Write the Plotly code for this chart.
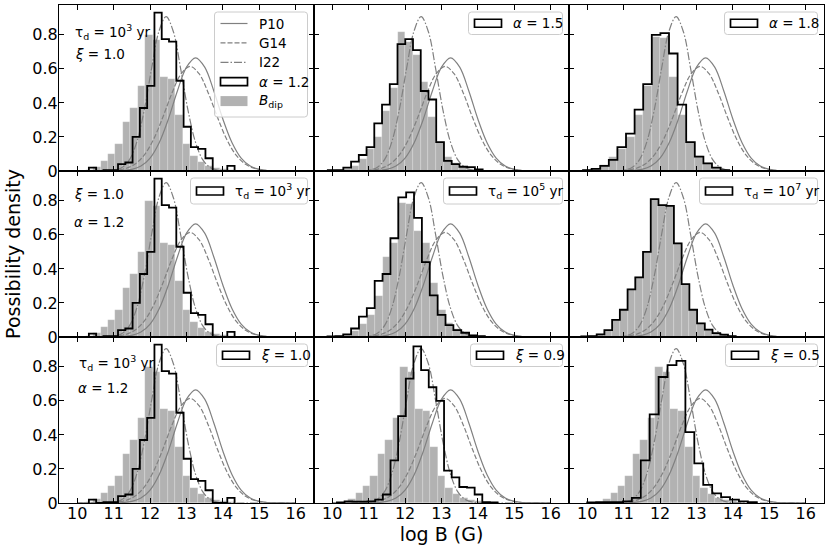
import plotly.graph_objects as go
from plotly.subplots import make_subplots

# ---------------- data ----------------
x_ticks = [10, 11, 12, 13, 14, 15, 16]
y_ticks = [0, 0.2, 0.4, 0.6, 0.8]
y_ticklabels = ["0", "0.2", "0.4", "0.6", "0.8"]

# model curves (P10, G14, I22)
p10_x = [10.0, 10.5, 10.75, 11.0, 11.25, 11.5, 11.75, 12.0, 12.25, 12.5, 12.75, 13.0,
         13.25, 13.5, 13.75, 14.0, 14.25, 14.5, 14.75, 15.0, 15.25, 15.5, 15.75, 16.0]
p10_y = [0, 0, 0.0001, 0.0006, 0.0026, 0.0095, 0.029, 0.076, 0.166, 0.304, 0.470, 0.610,
         0.665, 0.610, 0.470, 0.304, 0.166, 0.076, 0.029, 0.0095, 0.0026, 0.0006, 0.0001, 0]
g14_x = [10.0, 10.35, 10.6, 10.85, 11.1, 11.35, 11.6, 11.85, 12.1, 12.35, 12.6, 12.85, 13.1,
         13.35, 13.6, 13.85, 14.1, 14.35, 14.6, 14.85, 15.1, 15.35, 15.6, 15.85, 16.0]
g14_y = [0, 0.0001, 0.0004, 0.0015, 0.0054, 0.0164, 0.0428, 0.0966, 0.188, 0.3155, 0.457, 0.570,
         0.614, 0.570, 0.457, 0.3155, 0.188, 0.0966, 0.0428, 0.0164, 0.0054, 0.0015, 0.0004, 0.0001, 0]
i22_x = [10.0, 10.44, 10.64, 10.84, 11.04, 11.24, 11.44, 11.64, 11.84, 12.04, 12.24, 12.44,
         12.64, 12.84, 13.04, 13.24, 13.44, 13.64, 13.84, 14.04, 14.24, 14.44, 16.0]
i22_y = [0, 0, 0.0002, 0.0012, 0.0058, 0.022, 0.0686, 0.174, 0.358, 0.600, 0.818, 0.907,
         0.818, 0.600, 0.358, 0.174, 0.0686, 0.022, 0.0058, 0.0012, 0.0002, 0, 0]

# histograms: (first bin edge, bin width, heights)
bdip_fid_start, bdip_fid_width = 10.23, 0.205
bdip_fid = [0.005, 0.022, 0.06, 0.10, 0.16, 0.29, 0.37, 0.50, 0.80, 0.77, 0.55, 0.54,
            0.33, 0.16, 0.09, 0.05, 0.03, 0.02, 0.01, 0.005]

hist_fid_start, hist_fid_width = 10.32, 0.2          # tau=1e3, alpha=1.2, xi=1.0
hist_fid = [0.02, 0.0, 0.005, 0.005, 0.04, 0.05, 0.2, 0.37, 0.5, 0.93, 0.775, 0.76,
            0.53, 0.26, 0.14, 0.13, 0.075, 0.0, 0.0, 0.03]

hist_a15_start, hist_a15_width = 9.88, 0.2125
hist_a15 = [0.005, 0.005, 0.02, 0.055, 0.094, 0.14, 0.28, 0.39, 0.51, 0.745, 0.775, 0.71,
            0.47, 0.42, 0.17, 0.06, 0.04, 0.025, 0.023, 0.01]
bdip_a15 = [0.0, 0.003, 0.01, 0.03, 0.07, 0.13, 0.2, 0.35, 0.49, 0.815, 0.76, 0.68,
            0.52, 0.32, 0.17, 0.08, 0.045, 0.025, 0.012, 0.005]

hist_a18_start, hist_a18_width = 9.885, 0.236
hist_a18 = [0.005, 0.012, 0.03, 0.065, 0.14, 0.22, 0.36, 0.51, 0.80, 0.81, 0.69, 0.39,
            0.17, 0.085, 0.045, 0.02, 0.005]
bdip_a18 = [0.003, 0.01, 0.035, 0.08, 0.13, 0.2, 0.33, 0.5, 0.79, 0.78, 0.55, 0.33,
            0.17, 0.09, 0.045, 0.02, 0.005]

hist_t5_start, hist_t5_width = 9.87, 0.216
hist_t5 = [0.003, 0.005, 0.015, 0.05, 0.12, 0.17, 0.33, 0.37, 0.58, 0.82, 0.85, 0.70,
           0.44, 0.245, 0.13, 0.07, 0.04, 0.025, 0.01, 0.005]
bdip_t5 = [0.0, 0.003, 0.01, 0.035, 0.075, 0.13, 0.24, 0.47, 0.55, 0.79, 0.78, 0.62,
           0.55, 0.32, 0.16, 0.085, 0.045, 0.025, 0.01, 0.005]

hist_t7_start, hist_t7_width = 9.836, 0.212
hist_t7 = [0.003, 0.005, 0.015, 0.04, 0.10, 0.16, 0.28, 0.35, 0.50, 0.81, 0.775, 0.77,
           0.55, 0.31, 0.16, 0.08, 0.043, 0.023, 0.014, 0.005]

hist_x09_start, hist_x09_width = 10.13, 0.21
hist_x09 = [0.003, 0.01, 0.008, 0.008, 0.01, 0.02, 0.05, 0.25, 0.51, 0.73, 0.92, 0.78,
            0.68, 0.60, 0.19, 0.15, 0.094, 0.09, 0.05, 0.005, 0.003]

hist_x05_start, hist_x05_width = 10.0, 0.245
hist_x05 = [0.003, 0.005, 0.005, 0.005, 0.01, 0.03, 0.25, 0.52, 0.74, 0.81, 0.835, 0.416,
            0.233, 0.106, 0.057, 0.035, 0.02, 0.01, 0.005]

# ---------------- panels ----------------
FID = (bdip_fid_start, bdip_fid_width, bdip_fid)
TAU3 = "τ<sub>d</sub> = 10<sup>3</sup> yr"
panels = [
    dict(gray=FID, black=(hist_fid_start, hist_fid_width, hist_fid), leg="<i>α</i> = 1.2", legw=93,
         notes=[(TAU3, 72.5, 32.3), ("<i>ξ</i> = 1.0", 72.5, 54.3)]),
    dict(gray=(hist_a15_start, hist_a15_width, bdip_a15), black=(hist_a15_start, hist_a15_width, hist_a15),
         leg="<i>α</i> = 1.5", legw=94, notes=[]),
    dict(gray=(hist_a18_start, hist_a18_width, bdip_a18), black=(hist_a18_start, hist_a18_width, hist_a18),
         leg="<i>α</i> = 1.8", legw=93, notes=[]),
    dict(gray=FID, black=(hist_fid_start, hist_fid_width, hist_fid), leg=TAU3,
         legw=117, notes=[("<i>ξ</i> = 1.0", 71.5, 194.3), ("<i>α</i> = 1.2", 71.5, 221.7)]),
    dict(gray=(hist_t5_start, hist_t5_width, bdip_t5), black=(hist_t5_start, hist_t5_width, hist_t5),
         leg="τ<sub>d</sub> = 10<sup>5</sup> yr", legw=119, notes=[]),
    dict(gray=(hist_t7_start, hist_t7_width, hist_t7), black=(hist_t7_start, hist_t7_width, hist_t7),
         leg="τ<sub>d</sub> = 10<sup>7</sup> yr", legw=118, notes=[]),
    dict(gray=FID, black=(hist_fid_start, hist_fid_width, hist_fid), leg="<i>ξ</i> = 1.0", legw=91,
         notes=[(TAU3, 77, 362.7), ("<i>α</i> = 1.2", 76, 387.7)]),
    dict(gray=FID, black=(hist_x09_start, hist_x09_width, hist_x09), leg="<i>ξ</i> = 0.9", legw=92, notes=[]),
    dict(gray=FID, black=(hist_x05_start, hist_x05_width, hist_x05), leg="<i>ξ</i> = 0.5", legw=92, notes=[]),
]

# ---------------- style / geometry ----------------
W, H = 830, 551
ML, MR, MT, MB = 59, 6, 5, 48
PW = (W - ML - MR) / 3.0
PH = (H - MT - MB) / 3.0
FONT = "DejaVu Sans"
TXT = 13.5
CURVE_COLOR = "#808080"
GRAY_FILL = "#b2b2b2"
DASH_G14 = "5px,2px"
DASH_I22 = "8px,2px,1.5px,2px"


def P(px, py):
    return (px - ML) / (W - ML - MR), (H - MB - py) / (H - MT - MB)


def rounded_path(x0, y0, x1, y1, r=3):
    pts = [("M", [(x0 + r, y0)]), ("L", [(x1 - r, y0)]), ("Q", [(x1, y0), (x1, y0 + r)]),
           ("L", [(x1, y1 - r)]), ("Q", [(x1, y1), (x1 - r, y1)]), ("L", [(x0 + r, y1)]),
           ("Q", [(x0, y1), (x0, y1 - r)]), ("L", [(x0, y0 + r)]), ("Q", [(x0, y0), (x0 + r, y0)])]
    s = ""
    for cmd, plist in pts:
        s += cmd + " ".join("%.5f,%.5f" % P(a, b) for a, b in plist) + " "
    return s + "Z"


def step_xy(start, width, heights):
    edges = [start + width * i for i in range(len(heights) + 1)]
    return [edges[0]] + edges, [0] + list(heights) + [0]


fig = make_subplots(rows=3, cols=3, shared_xaxes=True, shared_yaxes=True,
                    horizontal_spacing=0, vertical_spacing=0)

for idx, p in enumerate(panels):
    r, c = idx // 3 + 1, idx % 3 + 1
    gs, gw, gh = p["gray"]
    centers = [gs + gw * (i + 0.5) for i in range(len(gh))]
    fig.add_trace(go.Bar(x=centers, y=gh, width=gw, showlegend=False, hoverinfo="skip",
                         marker=dict(color=GRAY_FILL, line=dict(width=0.5, color="rgba(255,255,255,0.35)"))),
                  row=r, col=c)
    fig.add_trace(go.Scatter(x=p10_x, y=p10_y, mode="lines", showlegend=False, hoverinfo="skip",
                             line=dict(color=CURVE_COLOR, width=1.2, shape="spline", smoothing=1)), row=r, col=c)
    fig.add_trace(go.Scatter(x=g14_x, y=g14_y, mode="lines", showlegend=False, hoverinfo="skip",
                             line=dict(color=CURVE_COLOR, width=1.2, dash=DASH_G14, shape="spline", smoothing=1)),
                  row=r, col=c)
    fig.add_trace(go.Scatter(x=i22_x, y=i22_y, mode="lines", showlegend=False, hoverinfo="skip",
                             line=dict(color=CURVE_COLOR, width=1.2, dash=DASH_I22, shape="spline", smoothing=1)),
                  row=r, col=c)
    bs, bw, bh = p["black"]
    sx, sy = step_xy(bs, bw, bh)
    fig.add_trace(go.Scatter(x=sx, y=sy, mode="lines", showlegend=False, hoverinfo="skip",
                             line=dict(color="black", width=1.8, shape="hv")), row=r, col=c)

    # ---- legend box (drawn by hand to mimic matplotlib) ----
    pl = ML + PW * (c - 1)
    pr = pl + PW
    pt = MT + PH * (r - 1)
    bx1 = pr - 6.5
    bx0 = bx1 - p["legw"]
    by0 = pt + 7
    if idx == 0:
        by1 = by0 + 105
        rows_y = [by0 + 11.5 + 19.4 * k for k in range(5)]
    else:
        hh = 26 if "τ" in p["leg"] else 22.5
        by1 = by0 + hh
        rows_y = [(by0 + by1) / 2]
    fig.add_shape(type="path", path=rounded_path(bx0, by0, bx1, by1), xref="paper", yref="paper",
                  fillcolor="rgba(255,255,255,0.8)", line=dict(color="#cccccc", width=1), layer="above")
    hx0, hx1 = bx0 + 6, bx0 + 33
    tx = bx0 + 42
    if idx == 0:
        entries = [("line", None, "P10"), ("line", DASH_G14, "G14"), ("line", DASH_I22, "I22"),
                   ("rect", None, p["leg"]), ("fill", None, "<i>B</i><sub>dip</sub>")]
    else:
        entries = [("rect", None, p["leg"])]
    for (kind, dash, label), yy in zip(entries, rows_y):
        if kind == "line":
            a0, b0 = P(hx0, yy)
            a1, b1 = P(hx1, yy)
            ld = dict(color=CURVE_COLOR, width=1.2)
            if dash:
                ld["dash"] = dash
            fig.add_shape(type="line", x0=a0, y0=b0, x1=a1, y1=b1, xref="paper", yref="paper",
                          line=ld, layer="above")
        elif kind == "rect":
            a0, b0 = P(hx0, yy + 4)
            a1, b1 = P(hx1, yy - 4)
            fig.add_shape(type="rect", x0=a0, y0=b0, x1=a1, y1=b1, xref="paper", yref="paper",
                          fillcolor="white", line=dict(color="black", width=1.7), layer="above")
        else:
            a0, b0 = P(hx0, yy + 5)
            a1, b1 = P(hx1, yy - 5)
            fig.add_shape(type="rect", x0=a0, y0=b0, x1=a1, y1=b1, xref="paper", yref="paper",
                          fillcolor=GRAY_FILL, line=dict(width=0), layer="above")
        ax, ay = P(tx, yy)
        fig.add_annotation(x=ax, y=ay, xref="paper", yref="paper", text=label, showarrow=False,
                           xanchor="left", yanchor="middle", font=dict(family=FONT, size=TXT, color="black"))
    for text, px, py in p["notes"]:
        ax, ay = P(px, py)
        fig.add_annotation(x=ax, y=ay, xref="paper", yref="paper", text=text, showarrow=False,
                           xanchor="left", yanchor="middle", font=dict(family=FONT, size=TXT, color="black"))

axis_common = dict(showline=True, linecolor="black", linewidth=1.1, mirror="ticks", ticks="inside",
                   ticklen=5, tickwidth=1.1, tickcolor="black", showgrid=False, zeroline=False,
                   tickfont=dict(family=FONT, size=16, color="black"), automargin=False)
fig.update_xaxes(range=[9.5, 16.5], tickvals=x_ticks, ticklabelstandoff=-4, **axis_common)
fig.update_yaxes(range=[0, 0.975], tickvals=y_ticks, ticktext=y_ticklabels, ticklabelstandoff=-3,
                 **axis_common)
for r in range(1, 4):
    for c in range(1, 4):
        fig.update_xaxes(showticklabels=(r == 3), row=r, col=c)
        fig.update_yaxes(showticklabels=(c == 1), row=r, col=c)

fig.update_xaxes(title=dict(text="log B (G)", font=dict(family=FONT, size=19, color="black"), standoff=2),
                 row=3, col=2)
fig.update_yaxes(title=dict(text="Possibility density", font=dict(family=FONT, size=19, color="black"),
                            standoff=6), row=2, col=1)

fig.update_layout(width=W, height=H, margin=dict(l=ML, r=MR, t=MT, b=MB), plot_bgcolor="white",
                  paper_bgcolor="white", barmode="overlay", bargap=0, showlegend=False,
                  font=dict(family=FONT, color="black"))

fig.write_html("out.html", config={"displayModeBar": False},
               post_script="document.body.style.margin='0px';document.body.style.overflow='hidden';")
